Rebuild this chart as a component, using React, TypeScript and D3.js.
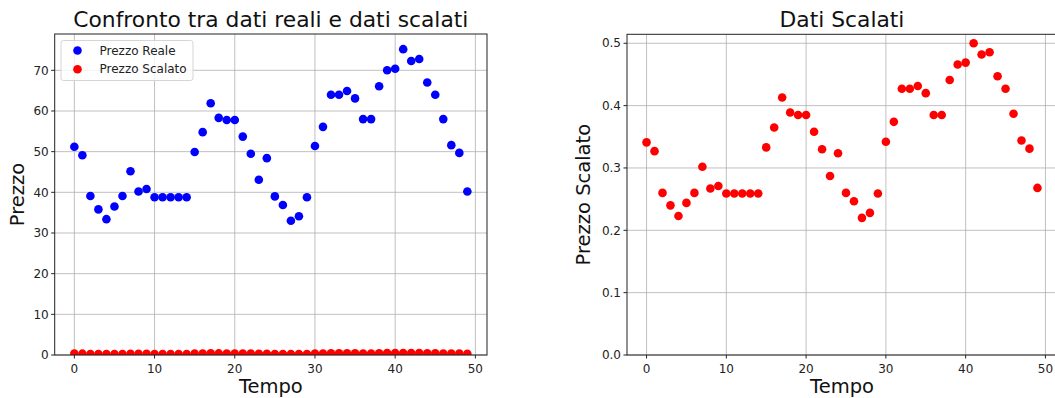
import * as d3 from 'd3';

const tempo = d3.range(50);

const prezzoReale = [
  51.2, 49.1, 39.1, 35.8, 33.4, 36.5, 39.1, 45.2, 40.2, 40.8,
  38.8, 38.8, 38.8, 38.8, 38.8, 49.9, 54.8, 61.9, 58.3, 57.8,
  57.8, 53.7, 49.5, 43.1, 48.4, 39.0, 36.9, 33.0, 34.1, 38.8,
  51.4, 56.1, 64.0, 64.0, 64.9, 63.1, 58.0, 58.0, 66.1, 70.0,
  70.4, 75.2, 72.3, 72.8, 67.0, 64.0, 58.0, 51.6, 49.7, 40.2,
];

const prezzoScalato = [
  0.341, 0.327, 0.26, 0.24, 0.223, 0.244, 0.26, 0.302, 0.267, 0.271,
  0.259, 0.259, 0.259, 0.259, 0.259, 0.333, 0.365, 0.413, 0.389, 0.385,
  0.385, 0.358, 0.33, 0.287, 0.3235, 0.26, 0.2465, 0.22, 0.228, 0.259,
  0.342, 0.374, 0.427, 0.427, 0.4315, 0.42, 0.385, 0.385, 0.441, 0.466,
  0.469, 0.5, 0.482, 0.4855, 0.447, 0.427, 0.387, 0.344, 0.331, 0.268,
];

const xTicks = [0, 10, 20, 30, 40, 50];
const leftYTicks = [0, 10, 20, 30, 40, 50, 60, 70];
const rightYTicks = [0, 0.1, 0.2, 0.3, 0.4, 0.5];

const FONT = "'DejaVu Sans', sans-serif";
const GRID = '#b0b0b0';
const INK = '#222';
const R = 4.3;

type Box = { left: number; right: number; top: number; bottom: number };

function Axes({
  box, id, yDomain, yTicks, yFmt, title, ylabel, ylabelX, series, legend,
}: {
  box: Box;
  id: string;
  yDomain: [number, number];
  yTicks: number[];
  yFmt: (v: number) => string;
  title: string;
  ylabel: string;
  ylabelX: number;
  series: { values: number[]; color: string; label: string }[];
  legend?: boolean;
}) {
  const x = d3.scaleLinear().domain([-2.45, 51.45]).range([box.left, box.right]);
  const y = d3.scaleLinear().domain(yDomain).range([box.bottom, box.top]);
  const midY = (box.top + box.bottom) / 2;

  return (
    <g fontFamily={FONT}>
      <defs>
        <clipPath id={id}>
          <rect x={box.left} y={box.top} width={box.right - box.left} height={box.bottom - box.top} />
        </clipPath>
      </defs>
      {/* grid */}
      {xTicks.map((t) => (
        <line key={'gx' + t} x1={x(t)} x2={x(t)} y1={box.top} y2={box.bottom} stroke={GRID} strokeWidth={0.8} />
      ))}
      {yTicks.map((t) => (
        <line key={'gy' + t} x1={box.left} x2={box.right} y1={y(t)} y2={y(t)} stroke={GRID} strokeWidth={0.8} />
      ))}
      {/* points */}
      <g clipPath={`url(#${id})`}>
        {series.map((s) =>
          s.values.map((v, i) => (
            <circle key={s.label + i} cx={x(tempo[i])} cy={y(v)} r={R} fill={s.color} />
          ))
        )}
      </g>
      {/* spines */}
      <rect x={box.left} y={box.top} width={box.right - box.left} height={box.bottom - box.top} fill="none" stroke={INK} strokeWidth={1} />
      {/* x ticks */}
      {xTicks.map((t) => (
        <g key={'xt' + t} transform={`translate(${x(t)},${box.bottom})`}>
          <line y2={3.5} stroke={INK} />
          <text y={18} textAnchor="middle" fontSize={12} fill={INK}>{t}</text>
        </g>
      ))}
      {yTicks.map((t) => (
        <g key={'yt' + t} transform={`translate(${box.left},${y(t)})`}>
          <line x2={-3.5} stroke={INK} />
          <text x={-6} dy="0.35em" textAnchor="end" fontSize={12} fill={INK}>{yFmt(t)}</text>
        </g>
      ))}
      {/* labels */}
      <text x={(box.left + box.right) / 2} y={27} textAnchor="middle" fontSize={21.8} fill="#111">{title}</text>
      <text x={(box.left + box.right) / 2} y={393} textAnchor="middle" fontSize={19.5} fill="#111">Tempo</text>
      <text transform={`translate(${ylabelX},${midY}) rotate(-90)`} textAnchor="middle" fontSize={19.5} fill="#111">{ylabel}</text>
      {legend && (
        <g>
          <rect x={61} y={40.5} width={132} height={40} rx={2.5} fill="#fff" fillOpacity={0.8} stroke="#d5d5d5" strokeWidth={1} />
          {series.map((s, i) => (
            <g key={'lg' + s.label} transform={`translate(0,${50.5 + i * 18.7})`}>
              <circle cx={77.5} cy={0} r={R} fill={s.color} />
              <text x={99.5} dy="0.35em" fontSize={12} fill={INK}>{s.label}</text>
            </g>
          ))}
        </g>
      )}
    </g>
  );
}

export default function App() {
  return (
    <svg width={1055} height={398} style={{ position: 'absolute', left: 0, top: 0, background: '#fff' }}>
      <Axes
        box={{ left: 54.7, right: 487, top: 34, bottom: 355 }}
        id="clipL"
        yDomain={[0, 78.93]}
        yTicks={leftYTicks}
        yFmt={(v) => String(v)}
        title="Confronto tra dati reali e dati scalati"
        ylabel="Prezzo"
        ylabelX={24}
        series={[
          { values: prezzoReale, color: '#0000ff', label: 'Prezzo Reale' },
          { values: prezzoScalato, color: '#ff0000', label: 'Prezzo Scalato' },
        ]}
        legend
      />
      <Axes
        box={{ left: 627, right: 1057, top: 34.3, bottom: 355 }}
        id="clipR"
        yDomain={[0, 0.5144]}
        yTicks={rightYTicks}
        yFmt={(v) => v.toFixed(1)}
        title="Dati Scalati"
        ylabel="Prezzo Scalato"
        ylabelX={590}
        series={[{ values: prezzoScalato, color: '#ff0000', label: 'Prezzo Scalato' }]}
      />
    </svg>
  );
}
